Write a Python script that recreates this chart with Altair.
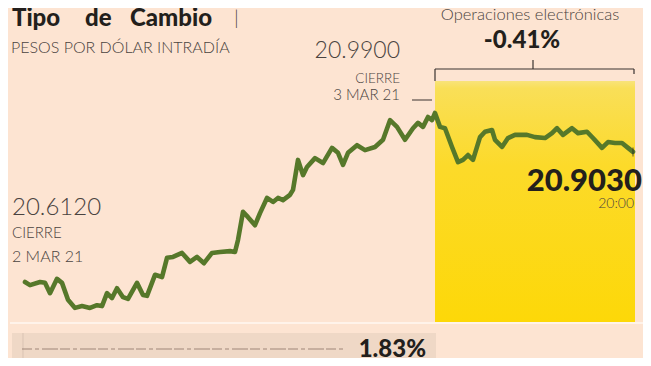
import altair as alt
import pandas as pd

# ---- data ----
t = [0, 5, 15, 20, 25, 32, 37, 43, 50, 57, 65, 72, 77, 82, 87, 92, 98, 103, 112, 118,
     122, 130, 137, 142, 148, 157, 165, 172, 179, 187, 195, 205, 210, 213, 218, 223, 230,
     235, 242, 248, 253, 258, 265, 268, 273, 278, 282, 290, 298, 307, 313, 318, 323, 332,
     340, 350, 358, 365, 372, 380, 388, 393, 398, 403, 407, 410, 415, 420, 427, 433, 438,
     443, 448, 455, 460, 467, 470, 477, 483, 490, 502, 510, 520, 527, 532, 538, 547, 553,
     562, 568, 577, 583, 590, 597, 603, 608]
rate = [20.612, 20.605, 20.612, 20.610, 20.587, 20.619, 20.610, 20.572, 20.554, 20.558,
        20.554, 20.560, 20.558, 20.587, 20.576, 20.598, 20.578, 20.574, 20.610, 20.583,
        20.581, 20.628, 20.623, 20.666, 20.668, 20.677, 20.657, 20.668, 20.654, 20.677,
        20.679, 20.681, 20.679, 20.706, 20.769, 20.757, 20.739, 20.766, 20.800, 20.791,
        20.800, 20.795, 20.807, 20.818, 20.885, 20.851, 20.869, 20.889, 20.878, 20.912,
        20.901, 20.874, 20.901, 20.918, 20.907, 20.914, 20.930, 20.974, 20.959, 20.930,
        20.956, 20.968, 20.959, 20.981, 20.974, 20.990, 20.959, 20.956, 20.914, 20.880,
        20.885, 20.896, 20.885, 20.936, 20.948, 20.952, 20.930, 20.914, 20.934, 20.941,
        20.941, 20.936, 20.934, 20.945, 20.956, 20.941, 20.956, 20.945, 20.948, 20.934,
        20.912, 20.925, 20.923, 20.923, 20.912, 20.903]

title_words = ["Tipo", "de", "Cambio"]
subtitle = "PESOS POR DÓLAR INTRADÍA"
close_prev = "20.6120"
close_prev_date = "2 MAR 21"
close_last = "20.9900"
close_last_date = "3 MAR 21"
last_value = "20.9030"
last_time = "20:00"
electronic_label = "Operaciones electrónicas"
electronic_change = "-0.41%"
day_change = "1.83%"

df = pd.DataFrame({"t": t, "rate": rate})
close_idx = rate.index(max(rate))
t_close = t[close_idx]
t_end = t[-1]

BG = "#fde4d2"
GREEN = "#56782a"
DARK = "#231f1c"
GREY = "#4a4340"
FONT = "Lato"

W, H = 635, 350
xs = alt.Scale(domain=[-17, 618])
ys = alt.Scale(domain=[20.4419, 21.2249])

X = alt.X("t:Q", scale=xs, axis=None)
Y = alt.Y("rate:Q", scale=ys, axis=None)

one = alt.Data(values=[{}])

# yellow electronic-session area
yellow = alt.Chart(pd.DataFrame({"a": [t_close], "b": [t_end + 2]})).mark_rect(
    color=alt.Gradient(
        gradient="linear", x1=0, x2=0, y1=0, y2=1,
        stops=[alt.GradientStop(offset=0, color="#f8e37a"),
               alt.GradientStop(offset=0.03, color="#f9df58"),
               alt.GradientStop(offset=0.35, color="#fcda2a"),
               alt.GradientStop(offset=1, color="#fdd808")])
).encode(
    x=alt.X("a:Q", scale=xs, axis=None), x2="b:Q",
    y=alt.value(73), y2=alt.value(314)
)

# baseline
base = alt.Chart(one).mark_rule(color="#fff3ea", strokeWidth=2).encode(
    x=alt.value(2), x2=alt.value(635), y=alt.value(315))

# bottom strip
strip = alt.Chart(one).mark_rect(color="#efd8c6").encode(
    x=alt.value(4), x2=alt.value(428), y=alt.value(325), y2=alt.value(356))
strip_tick = alt.Chart(one).mark_rule(color="#d9c3b3", strokeWidth=1).encode(
    x=alt.value(15), y=alt.value(325), y2=alt.value(355))
strip_line = alt.Chart(one).mark_rule(color="#8c7464", strokeWidth=1, opacity=0.8,
                                      strokeDash=[10, 3, 4, 3, 16, 2]).encode(
    x=alt.value(14), x2=alt.value(336), y=alt.value(341))
strip_text = alt.Chart(one).mark_text(
    text=day_change, font=FONT, fontWeight=900, fontSize=24, color=DARK,
    align="right", baseline="alphabetic").encode(x=alt.value(418), y=alt.value(349))

# line
line = alt.Chart(df).mark_line(color=GREEN, strokeWidth=4.6, strokeJoin="round",
                               strokeCap="round").encode(x=X, y=Y)
end_tick = alt.Chart(df.tail(1)).mark_tick(color=DARK, thickness=1, size=9,
                                           orient="vertical").encode(x=X, y=Y)

# bracket
br_h = alt.Chart(one).mark_rule(color="#3a3330", strokeWidth=1.2).encode(
    x=alt.value(427), x2=alt.value(626), y=alt.value(61))
br_l = alt.Chart(one).mark_rule(color="#3a3330", strokeWidth=1.2).encode(
    x=alt.value(427), y=alt.value(61), y2=alt.value(73))
br_r = alt.Chart(one).mark_rule(color="#3a3330", strokeWidth=1.2).encode(
    x=alt.value(626), y=alt.value(61), y2=alt.value(66))
br_c = alt.Chart(one).mark_rule(color="#3a3330", strokeWidth=1.2).encode(
    x=alt.value(525), y=alt.value(52), y2=alt.value(61))
close_dash = alt.Chart(one).mark_rule(color="#3a3330", strokeWidth=1).encode(
    x=alt.value(404), x2=alt.value(424), y=alt.value(92))


def txt(s, x, y, size, weight="normal", align="left", color=GREY, **kw):
    return alt.Chart(one).mark_text(
        text=s, font=FONT, fontSize=size, fontWeight=weight, align=align,
        baseline="alphabetic", color=color, **kw).encode(x=alt.value(x), y=alt.value(y))


texts = [
    txt(title_words[0], 4, 18, 24, 900, color=DARK),
    txt(title_words[1], 77, 18, 24, 900, color=DARK),
    txt(title_words[2], 122, 18, 24, 900, color=DARK),
    txt("|", 226, 17, 20, 300, color=GREY),
    txt(subtitle, 3, 45, 16, 300),
    txt(electronic_label, 522, 12, 16.5, 300, "center"),
    txt(electronic_change, 514, 40, 24, 900, "center", DARK),
    txt(close_last, 392, 50, 23, 300, "right"),
    txt("CIERRE", 392, 75, 13.5, 300, "right"),
    txt(close_last_date, 392, 92, 15, 300, "right"),
    txt(close_prev, 4, 207, 24, 300),
    txt("CIERRE", 4, 230, 15, 300),
    txt(close_prev_date, 4, 254, 16, 300),
    txt(last_value, 634, 183, 31, 900, "right", DARK),
    txt(last_time, 626, 200, 14, 300, "right"),
]

chart = alt.layer(
    yellow, base, strip, strip_tick, strip_line, strip_text,
    br_h, br_l, br_r, br_c, close_dash,
    line, end_tick, *texts
).properties(
    width=W, height=H, background=BG, padding=0, autosize=alt.AutoSizeParams(type="none")
).configure_view(stroke=None)

chart.save("out.html", embed_options={"renderer": "svg", "actions": False})
